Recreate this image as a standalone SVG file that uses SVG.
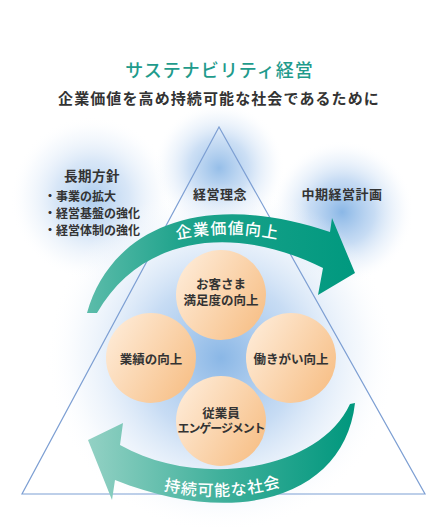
<svg xmlns="http://www.w3.org/2000/svg" width="439" height="527" viewBox="0 0 439 527">
<defs>
<style>
.t{font-family:"Noto Sans CJK JP","Noto Sans",sans-serif;font-weight:700;fill:#333;text-anchor:middle}
.b{font-family:"Noto Sans CJK JP","Noto Sans",sans-serif;font-weight:700;fill:#333;text-anchor:start}
.w{font-family:"Noto Sans CJK JP","Noto Sans",sans-serif;font-weight:500;fill:#fff;text-anchor:middle}
.node circle{fill:url(#peach)}
</style>
<radialGradient id="glow" cx="0.5" cy="0.5" r="0.5">
<stop offset="0" stop-color="#8ab7e6" stop-opacity="1"/>
<stop offset="0.45" stop-color="#b4d0f0" stop-opacity="0.75"/>
<stop offset="0.8" stop-color="#e1ecf9" stop-opacity="0.35"/>
<stop offset="1" stop-color="#ffffff" stop-opacity="0"/>
</radialGradient>
<linearGradient id="peach" x1="0" y1="0.2" x2="1" y2="0.8">
<stop offset="0" stop-color="#feebd7"/>
<stop offset="1" stop-color="#f7bf86"/>
</linearGradient>
<linearGradient id="gTop" gradientUnits="userSpaceOnUse" x1="87" y1="0" x2="355" y2="0">
<stop offset="0" stop-color="#5cbcaa"/>
<stop offset="0.35" stop-color="#1fa38c"/>
<stop offset="1" stop-color="#00997f"/>
</linearGradient>
<linearGradient id="gBot" gradientUnits="userSpaceOnUse" x1="88" y1="0" x2="355" y2="0">
<stop offset="0" stop-color="#93d1c4"/>
<stop offset="0.5" stop-color="#3fb09b"/>
<stop offset="1" stop-color="#00977d"/>
</linearGradient>
<path id="pTop" d="M 165 242 Q 226 226 290 242"/>
<path id="pBot" d="M 155 488 Q 220 506 290 484"/>
</defs>
<rect width="439" height="527" fill="#fff"/>

<g id="glows">
<circle cx="92" cy="198" r="82" fill="url(#glow)" opacity="0.7"/>
<circle cx="219" cy="168" r="66" fill="url(#glow)" opacity="0.9"/>
<circle cx="342" cy="212" r="72" fill="url(#glow)"/>
<circle cx="221" cy="358" r="175" fill="url(#glow)"/>
</g>

<g id="triangle">
<polygon points="219,127 22,494 425,494" fill="none" stroke="#7d9fd3" stroke-width="1.2"/>
</g>

<g id="title">
<text x="219.5" y="77" font-family="Noto Sans CJK JP, Noto Sans, sans-serif" font-size="18" font-weight="500" fill="#1f9b8c" text-anchor="middle" letter-spacing="1">サステナビリティ経営</text>
<text class="t" x="219" y="104" font-size="15" letter-spacing="1.1">企業価値を高め持続可能な社会であるために</text>
</g>

<g id="connectors">
<path id="arrowTop" d="M 87 313 C 110 230, 200 188, 330 232 L 332 218 L 355 273 L 318 295 L 323 268 C 230 222, 140 238, 97 313 Z" fill="url(#gTop)"/>
<path id="arrowBot" d="M 355 403 C 345 495, 240 530, 115 480 L 112 500 L 88 440 L 123 423 L 120 445 C 200 490, 320 470, 350 404 Z" fill="url(#gBot)"/>
<text class="w" font-size="16" letter-spacing="1"><textPath href="#pTop" startOffset="50%">企業価値向上</textPath></text>
<text class="w" font-size="16" letter-spacing="1"><textPath href="#pBot" startOffset="50%">持続可能な社会</textPath></text>
</g>

<g id="longterm">
<text class="t" x="92" y="181" font-size="13.5" letter-spacing="0.5">長期方針</text>
<text class="b" x="44" y="201" font-size="12">・事業の拡大</text>
<text class="b" x="44" y="218" font-size="12">・経営基盤の強化</text>
<text class="b" x="44" y="235" font-size="12">・経営体制の強化</text>
</g>
<g id="philosophy">
<text class="t" x="220" y="199" font-size="13" letter-spacing="0.5">経営理念</text>
</g>
<g id="midterm">
<text class="t" x="342" y="199" font-size="13" letter-spacing="0.5">中期経営計画</text>
</g>

<g id="n-customer" class="node">
<circle cx="221" cy="295" r="45"/>
<text class="t" x="221" y="289" font-size="12.5">お客さま</text>
<text class="t" x="221" y="305" font-size="12.5">満足度の向上</text>
</g>
<g id="n-performance" class="node">
<circle cx="151" cy="358" r="45"/>
<text class="t" x="151" y="364" font-size="12.5">業績の向上</text>
</g>
<g id="n-worth" class="node">
<circle cx="291" cy="358" r="45"/>
<text class="t" x="291" y="364" font-size="12.5">働きがい向上</text>
</g>
<g id="n-engagement" class="node">
<circle cx="221" cy="421" r="45"/>
<text class="t" x="221" y="418" font-size="12.5">従業員</text>
<text class="t" x="221" y="433" font-size="12" letter-spacing="-1.1">エンゲージメント</text>
</g>
</svg>
